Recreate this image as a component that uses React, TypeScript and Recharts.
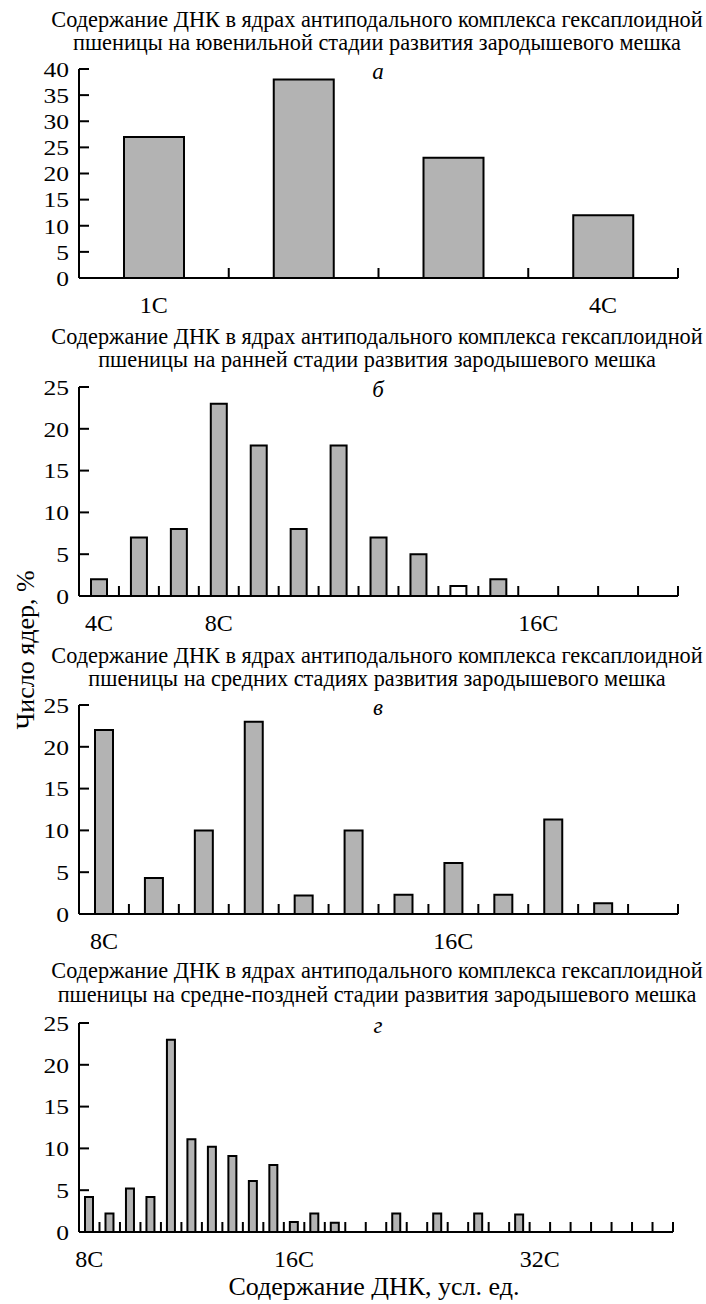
import React from "react";
import { BarChart, Bar, XAxis, YAxis, Cell, ReferenceLine } from "recharts";

const FONT = "'Liberation Serif', 'Times New Roman', serif";

// а — ювенильная стадия
const juvenileValues = [27, 38, 23, 12];
const juvenileLabelAt = [0, 3];
const juvenileLabels = ["1C", "4C"];

// б — ранняя стадия
const earlyValues = [2, 7, 8, 23, 18, 8, 18, 7, 5, 1.2, 2, 0, 0, 0, 0];
const earlyLabelAt = [0, 3, 11];
const earlyLabels = ["4C", "8C", "16C"];

// в — средние стадии
const middleValues = [22, 4.3, 10, 23, 2.2, 10, 2.3, 6.1, 2.3, 11.3, 1.3, 0];
const middleLabelAt = [0, 7];
const middleLabels = ["8C", "16C"];

// г — средне-поздняя стадия
const lateValues = [
  4.2, 2.2, 5.2, 4.2, 23, 11.1, 10.2, 9.1, 6.1, 8, 1.2, 2.2, 1.1, 0, 0, 2.2,
  0, 2.2, 0, 2.2, 0, 2.1, 0, 0, 0, 0, 0, 0, 0,
];
const lateLabelAt = [0, 10, 22];
const lateLabels = ["8C", "16C", "32C"];

const titleLine1 = "Содержание ДНК в ядрах антиподального комплекса гексаплоидной";

// short upward tick at each category boundary
function GridTick(props: any) {
  const { x, y } = props;
  return <line x1={x} x2={x} y1={y} y2={y - 10} stroke="#000" strokeWidth={2} />;
}

// inward tick + value label on the y axis
function ValueTick(props: any) {
  const { x, y, payload } = props;
  return (
    <g>
      <line x1={x + 10} x2={x + 20} y1={y} y2={y} stroke="#000" strokeWidth={2} />
      <text
        transform={`translate(${x},${y}) scale(1.16,1)`}
        dy="0.355em"
        textAnchor="end"
        fontSize={22}
        fontFamily={FONT}
        fill="#000"
      >
        {payload.value}
      </text>
    </g>
  );
}

type PanelProps = {
  top: number;
  values: number[];
  labelAt: number[];
  labels: string[];
  yMax: number;
  barSize: number;
  rightEdge: number;
  whiteAt?: number;
};

const PAD = 14;

function Panel({ top, values, labelAt, labels, yMax, barSize, rightEdge, whiteAt }: PanelProps) {
  const n = values.length;
  const data = values.map((v, i) => ({ x: i + 0.5, v }));
  const gridTicks = Array.from({ length: n + 1 }, (_, i) => i);
  const labelTicks = labelAt.map((i) => i + 0.5);
  const yTicks = Array.from({ length: yMax / 5 + 1 }, (_, i) => i * 5);

  return (
    <div style={{ position: "absolute", left: 0, top: top - PAD }}>
      <BarChart
        width={706}
        height={209 + PAD + 52}
        data={data}
        margin={{ top: PAD, right: 706 - rightEdge, bottom: 0, left: 0 }}
      >
        <XAxis
          xAxisId="grid"
          type="number"
          dataKey="x"
          domain={[0, n]}
          ticks={gridTicks}
          interval={0}
          tick={<GridTick />}
          tickLine={false}
          tickSize={0}
          tickMargin={0}
          height={1}
          stroke="#000"
          strokeWidth={2}
          axisLine
        />
        <XAxis
          xAxisId="lab"
          type="number"
          dataKey="x"
          domain={[0, n]}
          ticks={labelTicks}
          interval={0}
          tickFormatter={(v: number) => labels[labelAt.indexOf(v - 0.5)] ?? ""}
          axisLine={false}
          tickLine={false}
          tickSize={0}
          tickMargin={17}
          height={51}
          tick={{ fill: "#000", fontSize: 24, fontFamily: FONT }}
        />
        <YAxis
          type="number"
          domain={[0, yMax]}
          ticks={yTicks}
          interval={0}
          width={79}
          tickSize={0}
          tickMargin={10}
          stroke="#000"
          strokeWidth={2}
          axisLine
          tickLine={false}
          tick={<ValueTick />}
        />
        <Bar
          xAxisId="grid"
          dataKey="v"
          barSize={barSize}
          fill="#b3b3b3"
          stroke="#000"
          strokeWidth={2}
          isAnimationActive={false}
        >
          {values.map((_, i) => (
            <Cell key={i} fill={i === whiteAt ? "#fff" : "#b3b3b3"} />
          ))}
        </Bar>
        <ReferenceLine xAxisId="grid" x={0} stroke="#000" strokeWidth={2} />
      </BarChart>
    </div>
  );
}

export default function App() {
  const t = { fontFamily: FONT, fill: "#000" };
  return (
    <div style={{ position: "absolute", left: 0, top: 0, width: 706, height: 1304, background: "#fff" }}>
      {/* free text sits underneath the charts */}
      <svg width={706} height={1304} style={{ position: "absolute", left: 0, top: 0, pointerEvents: "none" }}>
        <g {...t} fontSize={22.3} textAnchor="middle">
          <text x={377} y={27}>{titleLine1}</text>
          <text x={377} y={50}>пшеницы на ювенильной стадии развития зародышевого мешка</text>
          <text x={377} y={344}>{titleLine1}</text>
          <text x={377} y={367}>пшеницы на ранней стадии развития зародышевого мешка</text>
          <text x={377} y={663}>{titleLine1}</text>
          <text x={377} y={686}>пшеницы на средних стадиях развития зародышевого мешка</text>
          <text x={377} y={978}>{titleLine1}</text>
          <text x={377} y={1002}>пшеницы на средне-поздней стадии развития зародышевого мешка</text>
        </g>
        <g {...t} fontSize={23} fontStyle="italic" textAnchor="middle">
          <text x={378} y={79}>а</text>
          <text x={378} y={397}>б</text>
          <text x={378} y={715}>в</text>
          <text x={378} y={1033}>г</text>
        </g>
        <text {...t} x={374} y={1295} fontSize={26} textAnchor="middle">
          Содержание ДНК, усл. ед.
        </text>
        <text {...t} x={34} y={650} fontSize={26} textAnchor="middle" transform="rotate(-90 34 650)">
          Число ядер, %
        </text>
      </svg>

      <Panel top={69} values={juvenileValues} labelAt={juvenileLabelAt} labels={juvenileLabels} yMax={40} barSize={60} rightEdge={678} />
      <Panel top={387} values={earlyValues} labelAt={earlyLabelAt} labels={earlyLabels} yMax={25} barSize={16} rightEdge={678} whiteAt={9} />
      <Panel top={705} values={middleValues} labelAt={middleLabelAt} labels={middleLabels} yMax={25} barSize={18} rightEdge={678} />
      <Panel top={1023} values={lateValues} labelAt={lateLabelAt} labels={lateLabels} yMax={25} barSize={8} rightEdge={673} />
    </div>
  );
}
